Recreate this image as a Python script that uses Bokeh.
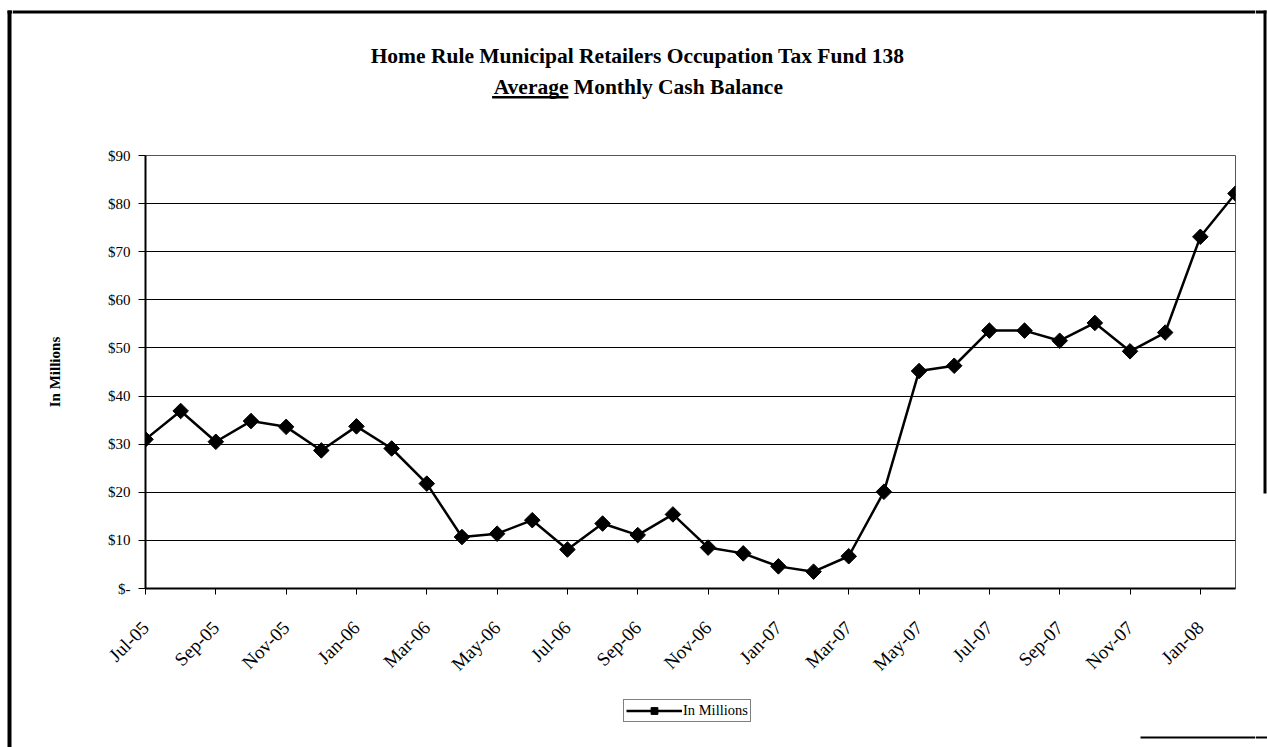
import math
from bokeh.plotting import figure
from bokeh.models import (FixedTicker, Range1d, Legend, LegendItem, ColumnDataSource)
from bokeh.layouts import row, column
from bokeh.core.properties import value
from bokeh.embed import file_html
from bokeh.resources import INLINE

# ---- data ----
months = ["Jul-05", "Aug-05", "Sep-05", "Oct-05", "Nov-05", "Dec-05",
          "Jan-06", "Feb-06", "Mar-06", "Apr-06", "May-06", "Jun-06",
          "Jul-06", "Aug-06", "Sep-06", "Oct-06", "Nov-06", "Dec-06",
          "Jan-07", "Feb-07", "Mar-07", "Apr-07", "May-07", "Jun-07",
          "Jul-07", "Aug-07", "Sep-07", "Oct-07", "Nov-07", "Dec-07",
          "Jan-08", "Feb-08"]
balance = [31.0, 36.9, 30.5, 34.8, 33.6, 28.7,
           33.7, 29.1, 21.8, 10.7, 11.4, 14.2,
           8.1, 13.5, 11.1, 15.4, 8.5, 7.3,
           4.6, 3.5, 6.7, 20.1, 45.2, 46.3,
           53.6, 53.6, 51.5, 55.2, 49.3, 53.2,
           73.1, 82.1]
y_ticks = [0, 10, 20, 30, 40, 50, 60, 70, 80, 90]
y_tick_labels = ["$-", "$10", "$20", "$30", "$40", "$50", "$60", "$70", "$80", "$90"]
x_tick_step = 2
series_name = "In Millions"
title_line1 = "Home Rule Municipal Retailers Occupation Tax Fund 138"
title_under = "Average"
title_rest = "Monthly Cash Balance"

W, H = 1267, 747
FONT = "Liberation Serif"
STRIP = 12                 # side strips that carry the page frame
CW = W - 2 * STRIP         # width of the central column
TOP_H = 140                # title band
BOT_H = 57                 # legend band
MAIN_H = H - TOP_H - BOT_H


def blank(width, height, x0, x1, y_top, y_bot):
    f = figure(width=width, height=height, output_backend="svg",
               toolbar_location=None, x_axis_type=None, y_axis_type=None,
               x_range=Range1d(x0, x1), y_range=Range1d(y_bot, y_top),
               min_border=0)
    f.min_border_left = f.min_border_right = 0
    f.min_border_top = f.min_border_bottom = 0
    f.outline_line_color = None
    f.background_fill_color = "white"
    f.border_fill_color = "white"
    f.frame_align = False
    return f


# ---------------- title band ----------------
top = blank(CW, TOP_H, STRIP, W - STRIP, 0, TOP_H)
top.quad(left=[STRIP], right=[W - STRIP], top=[10], bottom=[13],
         fill_color="black", line_color=None)
fs = 21.5
cx = 637
top.text(x=[cx], y=[55], text=[title_line1], text_align="center",
         text_baseline="middle", text_font=value(FONT), text_font_style="bold",
         text_font_size=f"{fs}px", text_color="black")
w_under = 3.554 * fs
w_space = 0.25 * fs
w_rest = 9.723 * fs
total = w_under + w_space + w_rest
x_split = cx - total / 2 + w_under
top.text(x=[x_split], y=[86], text=[title_under], text_align="right",
         text_baseline="middle", text_font=value(FONT), text_font_style="bold",
         text_font_size=f"{fs}px", text_color="black")
top.text(x=[x_split + w_space], y=[86], text=[title_rest], text_align="left",
         text_baseline="middle", text_font=value(FONT), text_font_style="bold",
         text_font_size=f"{fs}px", text_color="black")
top.quad(left=[x_split - w_under], right=[x_split], top=[95.5], bottom=[98],
         fill_color="black", line_color=None)

# ---------------- main chart ----------------
idx = list(range(len(months)))
src = ColumnDataSource(dict(x=idx, y=balance, month=months))

FRAME_L, FRAME_R, FRAME_T, FRAME_B = 145, 1235, 155, 588
p = figure(width=CW, height=MAIN_H, output_backend="svg", toolbar_location=None,
           x_range=Range1d(0, len(months) - 1), y_range=Range1d(0, 90),
           min_border_left=FRAME_L - STRIP, min_border_right=W - STRIP - FRAME_R,
           min_border_top=FRAME_T - TOP_H,
           min_border_bottom=TOP_H + MAIN_H - FRAME_B)
p.frame_align = False
p.background_fill_color = "white"
p.border_fill_color = "white"
p.outline_line_color = "#555555"
p.outline_line_width = 1

p.xgrid.visible = False
p.ygrid.ticker = FixedTicker(ticks=y_ticks)
p.ygrid.grid_line_color = "black"
p.ygrid.grid_line_width = 1

p.yaxis.ticker = FixedTicker(ticks=y_ticks)
p.yaxis.major_label_overrides = {t: l for t, l in zip(y_ticks, y_tick_labels)}
p.yaxis.major_tick_out = 7
p.yaxis.major_tick_in = 0
p.yaxis.minor_tick_line_color = None
p.yaxis.axis_line_color = "black"
p.yaxis.axis_line_width = 2
p.yaxis.major_tick_line_color = "black"
p.yaxis.major_label_text_font = FONT
p.yaxis.major_label_text_font_size = "15px"
p.yaxis.major_label_text_color = "black"
p.yaxis.major_label_standoff = 8
p.yaxis.axis_label = series_name
p.yaxis.axis_label_text_font = FONT
p.yaxis.axis_label_text_font_style = "bold"
p.yaxis.axis_label_text_font_size = "15px"
p.yaxis.axis_label_text_color = "black"
p.yaxis.axis_label_standoff = 42

xt = idx[::x_tick_step]
p.xaxis.ticker = FixedTicker(ticks=xt)
p.xaxis.major_label_overrides = {i: months[i] for i in xt}
p.xaxis.major_label_orientation = math.pi / 4
p.xaxis.major_tick_out = 6
p.xaxis.major_tick_in = 0
p.xaxis.minor_tick_line_color = None
p.xaxis.axis_line_color = "black"
p.xaxis.axis_line_width = 2
p.xaxis.major_tick_line_color = "black"
p.xaxis.major_label_text_font = FONT
p.xaxis.major_label_text_font_size = "19px"
p.xaxis.major_label_text_color = "black"
p.xaxis.major_label_standoff = 30

LINE_KW = dict(line_color="black", line_width=2.5)
MARK_KW = dict(marker="square", angle=math.pi / 4, size=11,
               fill_color="black", line_color="black")
p.line("x", "y", source=src, **LINE_KW)
p.scatter("x", "y", source=src, **MARK_KW)

# ---------------- legend band ----------------
bot = blank(CW, BOT_H, STRIP, W - STRIP, H - BOT_H, H)
bot.quad(left=[1140], right=[W - STRIP], top=[736], bottom=[738],
         fill_color="black", line_color=None)
# legend sample renderers: one point placed outside the visible band
proxy = ColumnDataSource(dict(x=[-1000], y=[-1000]))
lg_line = bot.line("x", "y", source=proxy, **LINE_KW)
lg_mark = bot.scatter("x", "y", source=proxy, **MARK_KW)
legend = Legend(items=[LegendItem(label=series_name, renderers=[lg_line, lg_mark])],
                location=(623 - STRIP, H - 722), orientation="horizontal",
                border_line_color="black", border_line_width=1,
                background_fill_color="white", background_fill_alpha=1,
                label_text_font=FONT, label_text_font_size="14.5px",
                label_text_color="black", glyph_width=56, glyph_height=17,
                label_standoff=1, padding=2, margin=0, spacing=0,
                label_height=14)
bot.add_layout(legend)

# ---------------- page frame strips ----------------
left = blank(STRIP, H, 0, STRIP, 0, H)
left.quad(left=[7, 7], right=[11, STRIP], top=[10, 10], bottom=[H, 13],
          fill_color="black", line_color=None)
right = blank(STRIP, H, W - STRIP, W, 0, H)
right.quad(left=[W - STRIP, 1263, W - STRIP], right=[1266, 1266, W],
           top=[10, 10, 736], bottom=[13, 493, 738],
           fill_color="black", line_color=None)

layout = row(left, column(top, p, bot), right)

open("out.html", "w").write(file_html(layout, INLINE))
